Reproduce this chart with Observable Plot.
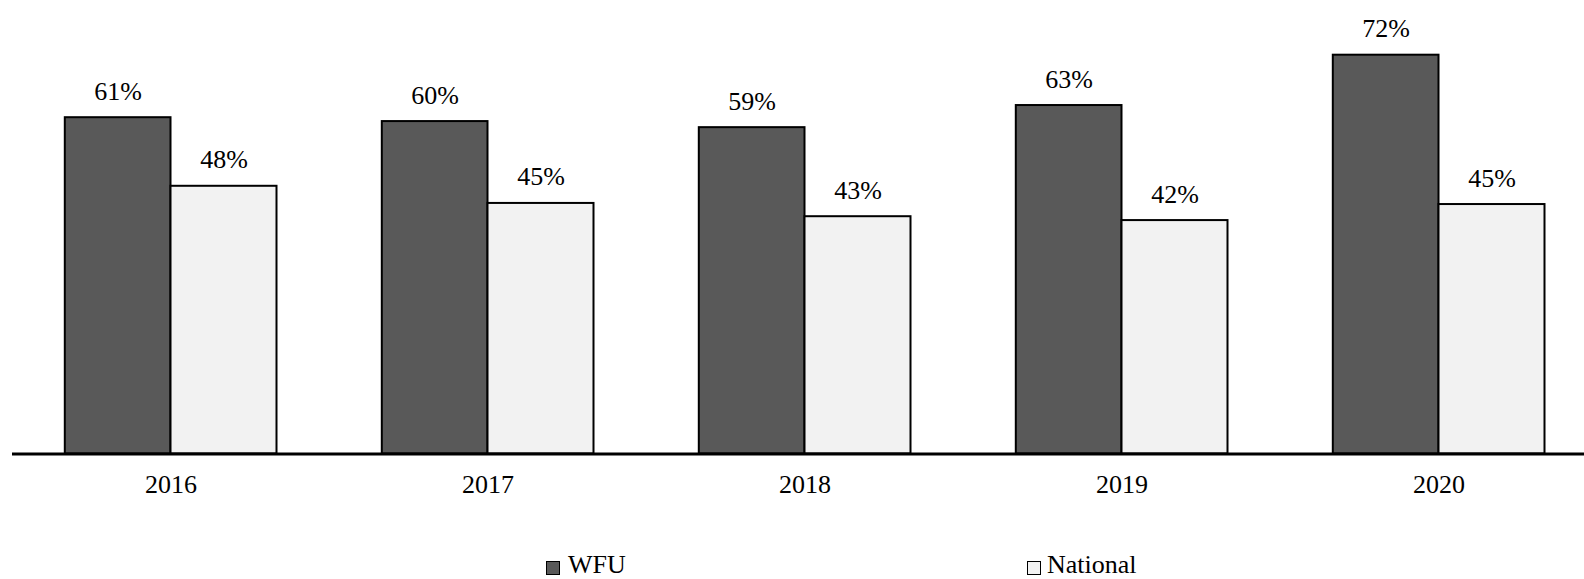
<!DOCTYPE html>
<html>
<head>
<meta charset="utf-8">
<script src="https://cdn.jsdelivr.net/npm/d3@7"></script>
<script src="https://cdn.jsdelivr.net/npm/@observablehq/plot@0.6"></script>
</head>
<body style="margin:0;padding:0;background:#fff;">
<div id="wrap" style="position:relative;width:1584px;height:579px;overflow:hidden;font-family:'Liberation Serif';">
  <div id="chart"></div>
  <div style="position:absolute;left:546px;top:561px;width:12px;height:12px;border:1.5px solid #000;background:#595959;"></div>
  <div style="position:absolute;left:568px;top:552px;font-family:'Liberation Serif';font-size:26px;line-height:26px;white-space:nowrap;color:#000;">WFU</div>
  <div style="position:absolute;left:1027px;top:561px;width:12px;height:12px;border:1.5px solid #000;background:#f2f2f2;"></div>
  <div style="position:absolute;left:1047px;top:552px;font-family:'Liberation Serif';font-size:26px;line-height:26px;white-space:nowrap;color:#000;">National</div>
</div>
<script>
const years = ["2016", "2017", "2018", "2019", "2020"];
const wfu = [60.8, 60.1, 59.0, 63.0, 72.1];
const national = [48.4, 45.3, 42.9, 42.2, 45.1];
const seriesNames = ["WFU", "National"];
const seriesColors = ["#595959", "#f2f2f2"];

const wfuData = years.map((y, i) => ({year: y, value: wfu[i]}));
const natData = years.map((y, i) => ({year: y, value: national[i]}));
const fmt = d => Math.round(d.value) + "%";

const chart = Plot.plot({
  width: 1584,
  height: 540,
  marginLeft: 12,
  marginRight: 0,
  marginTop: 11,
  marginBottom: 86.5,
  style: "font-family:'Liberation Serif';background:#fff;color:#000;display:block;",
  x: {domain: years, range: [11.5, 1596.5], padding: 0, label: null},
  y: {domain: [0, 80], axis: null},
  marks: [
    Plot.barY(wfuData, {x: "year", y: "value", fill: seriesColors[0], stroke: "#000", strokeWidth: 2, insetLeft: 52.8, insetRight: 158.5}),
    Plot.barY(natData, {x: "year", y: "value", fill: seriesColors[1], stroke: "#000", strokeWidth: 2, insetLeft: 158.5, insetRight: 52.5}),
    Plot.text(wfuData, {x: "year", y: "value", text: fmt, dx: -52.8, dy: -18, lineAnchor: "bottom", fontSize: 26, fill: "#000"}),
    Plot.text(natData, {x: "year", y: "value", text: fmt, dx: 53, dy: -18, lineAnchor: "bottom", fontSize: 26, fill: "#000"}),
    Plot.ruleY([0], {stroke: "#000", strokeWidth: 3}),
    Plot.axisX({tickSize: 0, tickPadding: 21, fontSize: 26, label: null})
  ]
});
d3.select(chart).selectAll("text").attr("font-family", "Liberation Serif").style("font-family", "'Liberation Serif'");
document.getElementById("chart").appendChild(chart);
</script>
</body>
</html>
